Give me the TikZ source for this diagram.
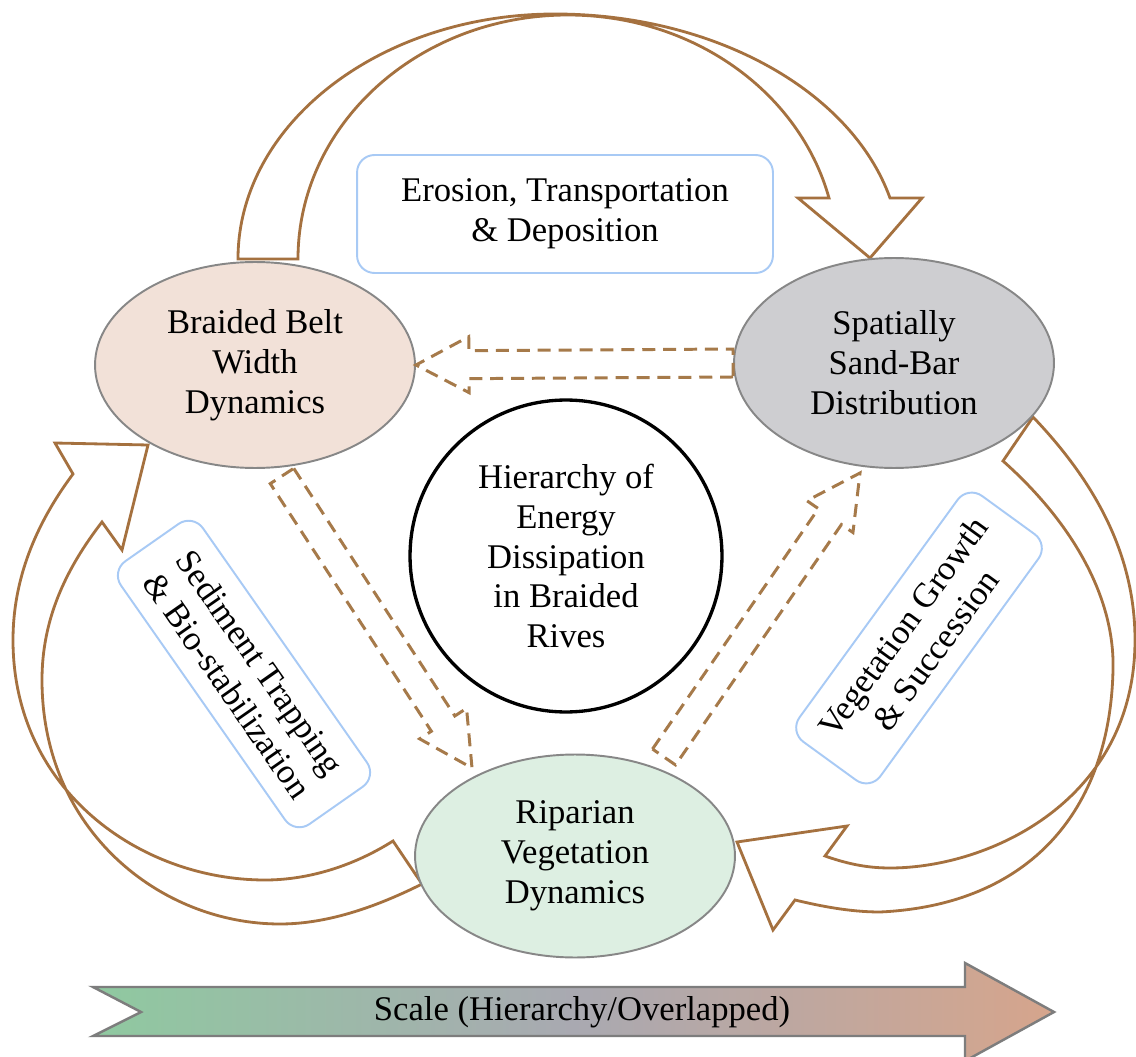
\documentclass[tikz,border=0pt]{standalone}
\usepackage{fontspec}
\setmainfont{Liberation Serif}
\usetikzlibrary{calc,shapes.geometric}

\definecolor{brownline}{RGB}{165,113,63}
\definecolor{dashbrown}{RGB}{166,122,74}
\definecolor{peachfill}{RGB}{242,225,216}
\definecolor{grayfill}{RGB}{206,206,209}
\definecolor{greenfill}{RGB}{221,239,226}
\definecolor{ellborder}{RGB}{135,135,135}
\definecolor{boxblue}{RGB}{168,202,245}
\definecolor{scalegreen}{RGB}{143,201,160}
\definecolor{scalegray}{RGB}{169,169,177}
\definecolor{scalepeach}{RGB}{214,165,140}
\definecolor{scaleedge}{RGB}{125,125,125}

\tikzset{
  lbl/.style={font=\fontsize{19.7}{22.7}\selectfont, align=center},
  hub/.style={ellipse, draw=ellborder, line width=1.1pt, inner sep=0pt, lbl},
  labelbox/.style={draw=boxblue, line width=1.1pt, rounded corners=0.35cm,
    inner sep=0pt, fill=white, lbl},
  bandarrow/.style={draw=brownline, line width=1.6pt, line join=miter},
  dasharrow/.style={draw=dashbrown, line width=1.7pt,
    dash pattern=on 7.4pt off 4.5pt, line join=miter},
}

% dashed block arrow from tail #1 to tip #2; #3 names the head base
\newcommand{\dashblock}[3]{%
  \coordinate (#3b) at ($(#2)!1.06cm!(#1)$);
  \draw[dasharrow]
    ($(#1)!0.28cm!90:(#2)$) -- ($(#3b)!0.28cm!90:(#2)$) --
    ($(#3b)!0.56cm!90:(#2)$) -- (#2) -- ($(#3b)!0.56cm!-90:(#2)$) --
    ($(#3b)!0.28cm!-90:(#2)$) -- ($(#1)!0.28cm!-90:(#2)$) -- cycle;}

\begin{document}
\begin{tikzpicture}[x=0.02cm, y=-0.02cm]
\useasboundingbox (0,0) rectangle (1136,1057);
\fill[white] (0,0) rectangle (1136,1057);

% curved feedback arrows
\draw[bandarrow]
  (238,259) .. controls (238,124) and (380,14) .. (555,14)
  .. controls (713,14) and (851,90) .. (890,198)
  -- (922,198) -- (870,258) -- (798,198) -- (829,198)
  .. controls (799,91) and (692,15) .. (568,15)
  .. controls (419,15) and (298,124) .. (298,259) -- cycle;

\draw[bandarrow]
  (393,841) .. controls (355,865) and (310,880) .. (265,880)
  .. controls (140,880) and (13,790) .. (13,640)
  .. controls (13,580) and (35,525) .. (73,474)
  -- (55,443) -- (148,445) -- (122,550) -- (102,522)
  .. controls (65,570) and (42,620) .. (42,680)
  .. controls (42,830) and (160,924) .. (280,924)
  .. controls (330,924) and (380,905) .. (422,884) -- cycle;

\draw[bandarrow]
  (1033,417) .. controls (1100,487) and (1135,560) .. (1135,640)
  .. controls (1135,800) and (990,868) .. (890,868)
  .. controls (865,868) and (845,863) .. (825,856)
  -- (847,826) -- (737,842) -- (773,930) -- (795,900)
  .. controls (820,906) and (850,912) .. (880,912)
  .. controls (1030,905) and (1110,810) .. (1113,670)
  .. controls (1115,600) and (1075,525) .. (1003,461) -- cycle;

% process labels
\node[labelbox, minimum width=8.32cm, minimum height=2.36cm] (etd) at (565,214)
  {Erosion, Transportation\\\& Deposition};
\node[labelbox, rotate=-55, minimum width=6.42cm, minimum height=2cm] (stb) at (244,674)
  {Sediment Trapping\\\& Bio-stabilization};
\node[labelbox, rotate=54, minimum width=6.08cm, minimum height=2cm] (vgs) at (919,638)
  {Vegetation Growth\\\& Succession};

% components
\node[hub, fill=peachfill, minimum width=6.4cm, minimum height=4.12cm] (bbw) at (255,365)
  {Braided Belt\\Width\\Dynamics};
\node[hub, fill=grayfill, minimum width=6.4cm, minimum height=4.2cm] (sbd) at (894,363)
  {Spatially\\Sand-Bar\\Distribution};
\node[hub, fill=greenfill, minimum width=6.4cm, minimum height=4.06cm] (rvd) at (575,856)
  {Riparian\\Vegetation\\Dynamics};
\node[circle, draw=black, line width=1.9pt, minimum size=6.24cm, inner sep=0pt, lbl] (hed)
  at (566,556) {Hierarchy of\\Energy\\Dissipation\\in Braided\\Rives};

% dashed interactions
\coordinate (d2t) at (282,476);
\coordinate (d2p) at (472,768);
\coordinate (d3t) at (664,757);
\coordinate (d3p) at (860,473);
\dashblock{sbd.west}{bbw.east}{da}
\dashblock{d2t}{d2p}{db}
\dashblock{d3t}{d3p}{dc}

% scale bar: green to grey to peach
\draw[draw=scaleedge, line width=1.4pt, line join=miter,
      left color=scalegreen, right color=scalepeach, middle color=scalegray]
  (93,987) -- (965,987) -- (965,963) -- (1054,1012) -- (965,1061) -- (965,1036)
  -- (93,1036) -- (141,1012) -- cycle;
\node[lbl] (scl) at (582,1012) {Scale (Hierarchy/Overlapped)};
\end{tikzpicture}
\end{document}
